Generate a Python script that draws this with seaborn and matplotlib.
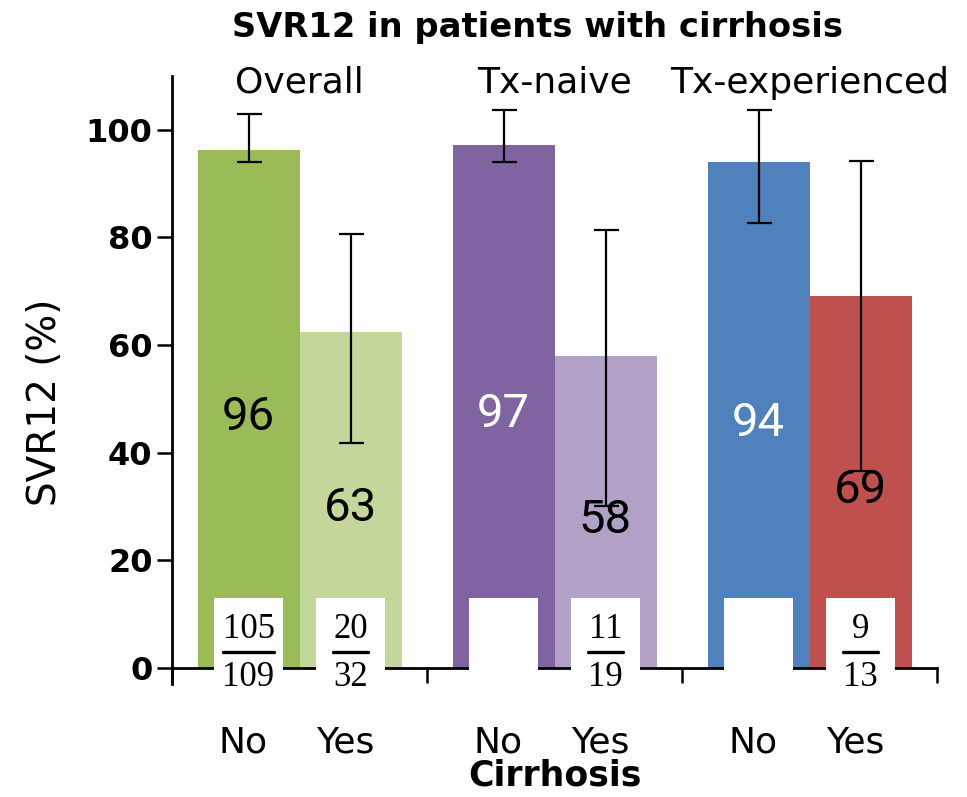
import matplotlib
matplotlib.use("Agg")
import matplotlib.pyplot as plt
import seaborn as sns
import pandas as pd

# ---- data ----
groups = ["Overall", "Tx-naive", "Tx-experienced"]
cirrhosis = ["No", "Yes"]
svr12 = [96.3, 62.5, 97.2, 57.9, 94.0, 69.2]
value_labels = ["96", "63", "97", "58", "94", "69"]
ci_low = [94.0, 41.8, 94.0, 30.1, 82.7, 36.6]
ci_high = [103.0, 80.7, 103.7, 81.4, 103.7, 94.2]
numerators = ["105", "20", "", "11", "", "9"]
denominators = ["109", "32", "", "19", "", "13"]
colors = ["#9BBB59", "#C4D79B", "#8064A2", "#B2A1C7", "#4F81BD", "#C0504D"]
label_colors = ["black", "black", "white", "black", "white", "black"]
yticks = [0, 20, 40, 60, 80, 100]

sns.set_theme(style="ticks")
plt.rcParams["font.family"] = ["DejaVu Sans"]
for k in ("text.color", "axes.labelcolor", "xtick.color", "ytick.color", "axes.edgecolor"):
    plt.rcParams[k] = "black"

# positions: each group occupies one unit, bars at +0.3 / +0.7
xpos = []
keys = []
for gi, g in enumerate(groups):
    for ci, c in enumerate(cirrhosis):
        xpos.append(gi + 0.3 + 0.4 * ci)
        keys.append(f"{g}|{c}")
df = pd.DataFrame({"x": xpos, "svr": svr12, "key": keys})

fig = plt.figure(figsize=(9.67, 7.97), dpi=100)
ax = fig.add_axes([172 / 967, 1 - 684 / 797, (937 - 172) / 967, (684 - 76) / 797])

sns.barplot(data=df, x="x", y="svr", hue="key", palette=colors, native_scale=True,
            width=1.0, dodge=False, legend=False, ax=ax, saturation=1, errorbar=None,
            linewidth=0)

ax.set_xlim(0, 3)
ax.set_ylim(-3, 110)
ax.spines["bottom"].set_position(("data", 0))
ax.spines["top"].set_visible(False)
ax.spines["right"].set_visible(False)
for s in ("left", "bottom"):
    ax.spines[s].set_linewidth(2)
    ax.spines[s].set_color("black")
ax.set_yticks(yticks)
ax.set_yticklabels([str(t) for t in yticks], fontsize=23, fontweight="bold")
ax.set_xticks([0, 1, 2, 3])
ax.set_xticklabels([])
ax.tick_params(axis="both", direction="out", length=11, width=1.8, color="black")
ax.tick_params(axis="y", pad=3)
ax.set_xlabel("")
ax.set_ylabel("")

# error bars
for x, v, lo, hi in zip(xpos, svr12, ci_low, ci_high):
    ax.errorbar([x], [v], yerr=[[v - lo], [hi - v]], fmt="none", ecolor="black",
                elinewidth=1.6, capsize=9, capthick=1.6, zorder=5)

# value labels
for x, v, lab, col in zip(xpos, svr12, value_labels, label_colors):
    ax.text(x, v / 2 - 1.5, lab, ha="center", va="center", fontsize=34,
            family="Roboto", color=col, zorder=6)

# white boxes with fractions
for x, num, den in zip(xpos, numerators, denominators):
    ax.add_patch(plt.Rectangle((x - 0.135, -9), 0.27, 22, facecolor="white",
                               edgecolor="none", zorder=4, clip_on=False))
    if num:
        ax.text(x, 7.2, num, ha="center", va="center", fontsize=25,
                family="Liberation Serif", zorder=6, clip_on=False)
        ax.text(x, -1.8, den, ha="center", va="center", fontsize=25,
                family="Liberation Serif", zorder=6, clip_on=False)
        half = 0.032 * max(len(num), len(den)) + 0.004
        ax.plot([x - half, x + half], [3.0, 3.0], color="black", lw=2.4,
                zorder=6, clip_on=False)

# category labels
for x, k in zip(xpos, keys):
    ax.text(x - 0.02, -13.8, k.split("|")[1], ha="center", va="center",
            fontsize=26, clip_on=False)
ax.text(1.5, -20.0, "Cirrhosis", ha="center", va="center", fontsize=25,
        fontweight="bold", clip_on=False)

# group labels
for gi, g in enumerate(groups):
    ax.text(gi + 0.5, 108.7, g, ha="center", va="center", fontsize=26,
            clip_on=False)

fig.text(537 / 967, 1 - 27 / 797, "SVR12 in patients with cirrhosis",
         ha="center", va="center", fontsize=24.3, fontweight="bold")
fig.text(45 / 967, 1 - 402 / 797, "SVR12 (%)", ha="center", va="center",
         rotation=90, fontsize=28)

fig.savefig("out.png", dpi=100)
